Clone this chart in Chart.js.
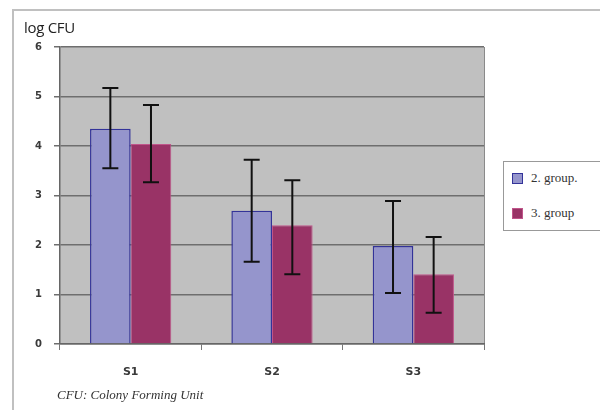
<!DOCTYPE html>
<html lang="en">
<head>
  <meta charset="UTF-8"/>
  <title>log CFU</title>
  <script src="https://cdn.jsdelivr.net/npm/chart.js"></script>
  <style>
    html, body { margin: 0; padding: 0; background: #fff; }
    #wrap { position: relative; width: 600px; height: 410px; overflow: hidden; }
    #frame { position: absolute; left: 12px; top: 9px; width: 600px; height: 410px;
             border-left: 2px solid #c0c0c0; border-top: 2px solid #c0c0c0; }
    #title { position: absolute; left: 24px; top: 17px; font: 15px "Open Sans", sans-serif; color: #222; letter-spacing: -0.3px; }
    #foot { position: absolute; left: 57px; top: 387px; font: italic 13px "Liberation Serif", serif; color: #333; }
    #legend { position: absolute; left: 503px; top: 161px; width: 110px; height: 68px;
              border: 1px solid #999; background: #fff; font: 13px "Liberation Serif", serif; color: #333; }
    .item { position: absolute; left: 8px; display: flex; align-items: center; }
    .sw { width: 11px; height: 11px; margin-right: 8px; box-sizing: border-box; }
  </style>
</head>
<body>
<div id="wrap">
  <div id="frame"></div>
  <canvas id="chart" width="600" height="410" style="position:absolute;left:0;top:0"></canvas>
  <div id="title">log CFU</div>
  <div id="foot">CFU: Colony Forming Unit</div>
  <div id="legend">
    <div class="item" style="top:8px"><div class="sw" style="background:#9595cc;border:1.5px solid #333399"></div>2. group.</div>
    <div class="item" style="top:43px"><div class="sw" style="background:#993366;border:1px solid #c0558a"></div>3. group</div>
  </div>
</div>
<script>
  const categories = ['S1', 'S2', 'S3'];
  const group2 = [4.35, 2.69, 1.98];
  const group3 = [4.04, 2.40, 1.41];
  const group2Hi = [5.17, 3.72, 2.89];
  const group2Lo = [3.55, 1.66, 1.03];
  const group3Hi = [4.83, 3.31, 2.16];
  const group3Lo = [3.27, 1.41, 0.63];
  const yTicks = [0, 1, 2, 3, 4, 5, 6];

  const plotBg = {
    id: 'plotBg',
    beforeDraw(chart) {
      const { ctx, chartArea: a } = chart;
      ctx.save();
      ctx.fillStyle = '#c0c0c0';
      ctx.fillRect(a.left, a.top, a.right - a.left, a.bottom - a.top);
      ctx.strokeStyle = '#8a8a8a';
      ctx.lineWidth = 1;
      ctx.beginPath();
      ctx.moveTo(a.right + 0.5, a.top);
      ctx.lineTo(a.right + 0.5, a.bottom + 6);
      ctx.stroke();
      ctx.restore();
    }
  };

  const errorBars = {
    id: 'errorBars',
    afterDatasetsDraw(chart) {
      const { ctx } = chart;
      const y = chart.scales.y;
      const sets = [[group2Hi, group2Lo], [group3Hi, group3Lo]];
      ctx.save();
      ctx.strokeStyle = '#111';
      ctx.lineWidth = 2;
      sets.forEach(([hi, lo], di) => {
        chart.getDatasetMeta(di).data.forEach((bar, i) => {
          const x = bar.x;
          const yt = y.getPixelForValue(hi[i]);
          const yb = y.getPixelForValue(lo[i]);
          ctx.beginPath();
          ctx.moveTo(x, yt); ctx.lineTo(x, yb);
          ctx.moveTo(x - 8, yt); ctx.lineTo(x + 8, yt);
          ctx.moveTo(x - 8, yb); ctx.lineTo(x + 8, yb);
          ctx.stroke();
        });
      });
      ctx.restore();
    }
  };

  new Chart(document.getElementById('chart'), {
    type: 'bar',
    data: {
      labels: categories,
      datasets: [
        { label: '2. group.', data: group2, backgroundColor: '#9595cc', borderColor: '#333399', borderWidth: 1.5 },
        { label: '3. group', data: group3, backgroundColor: '#993366', borderColor: '#c0558a', borderWidth: 1 }
      ]
    },
    options: {
      responsive: false,
      animation: false,
      events: [],
      categoryPercentage: 0.575,
      barPercentage: 1.0,
      layout: { padding: { left: 0, top: 47, right: 116, bottom: 0 } },
      plugins: { legend: { display: false }, tooltip: { enabled: false } },
      scales: {
        x: {
          grid: { drawOnChartArea: false, drawTicks: true, tickLength: 6, color: '#777' },
          border: { color: '#666', width: 1.5 },
          ticks: { color: '#3a3a3a', font: { family: 'DejaVu Sans', size: 11, weight: 'bold' }, padding: 16 },
          afterFit(s) { s.height = 66; }
        },
        y: {
          min: 0, max: 6,
          afterBuildTicks(s) { s.ticks = yTicks.map(v => ({ value: v })); },
          grid: { color: '#6e6e6e', lineWidth: 1.5, drawTicks: true, tickLength: 6 },
          border: { color: '#666', width: 1.5 },
          ticks: { color: '#3a3a3a', font: { family: 'DejaVu Sans', size: 10, weight: 'bold' }, padding: 12 },
          afterFit(s) { s.width = 60; }
        }
      }
    },
    plugins: [plotBg, errorBars]
  });
</script>
</body>
</html>
